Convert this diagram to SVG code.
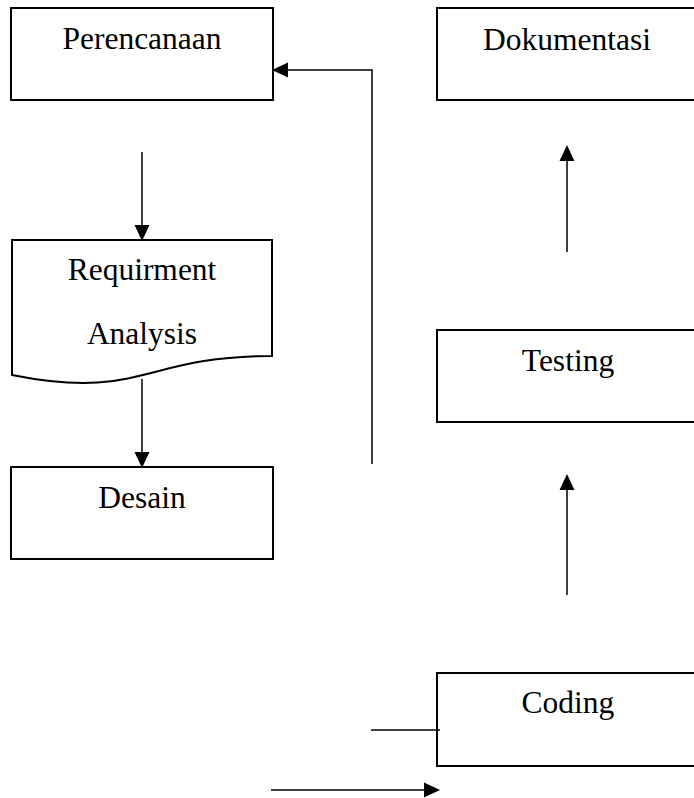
<svg xmlns="http://www.w3.org/2000/svg" width="694" height="798" viewBox="0 0 694 798">
  <style>
    .box { fill: #ffffff; stroke: #000000; stroke-width: 2; }
    .lbl { font-family: "Liberation Serif", "Times New Roman", serif; font-size: 31.5px; fill: #000000; text-anchor: middle; }
    .con { fill: none; stroke: #000000; stroke-width: 1.5; }
  </style>
  <defs>
    <marker id="arrow" markerUnits="userSpaceOnUse" markerWidth="16" markerHeight="16" viewBox="0 0 15 14" refX="0" refY="7" orient="auto">
      <path d="M0,0 L15,7 L0,14 Z" fill="#000000"/>
    </marker>
  </defs>
  <rect width="694" height="798" fill="#ffffff"/>

  <g id="perencanaan">
    <rect class="box" x="11" y="8" width="262" height="92"/>
    <text class="lbl" x="142" y="49">Perencanaan</text>
  </g>
  <g id="requirment-analysis">
    <path class="box" d="M12,240 L272,240 L272,356 C142,356 142,401 12,375 Z"/>
    <text class="lbl" x="142" y="280">Requirment</text>
    <text class="lbl" x="142" y="343.5">Analysis</text>
  </g>
  <g id="desain">
    <rect class="box" x="11" y="467" width="262" height="92"/>
    <text class="lbl" x="142" y="508">Desain</text>
  </g>
  <g id="dokumentasi">
    <rect class="box" x="437" y="8" width="262" height="92"/>
    <text class="lbl" x="567" y="50">Dokumentasi</text>
  </g>
  <g id="testing">
    <rect class="box" x="437" y="330" width="262" height="92"/>
    <text class="lbl" x="568" y="371">Testing</text>
  </g>
  <g id="coding">
    <rect class="box" x="437" y="673" width="262" height="93"/>
    <text class="lbl" x="568" y="713">Coding</text>
  </g>

  <g id="connectors">
    <path class="con" d="M142,152 L142,225" marker-end="url(#arrow)"/>
    <path class="con" d="M142,379 L142,452" marker-end="url(#arrow)"/>
    <path class="con" d="M372,464 L372,70 L288,70" marker-end="url(#arrow)"/>
    <path class="con" d="M567,252 L567,161" marker-end="url(#arrow)"/>
    <path class="con" d="M567,595 L567,490" marker-end="url(#arrow)"/>
    <path class="con" d="M371,730 L440,730"/>
    <path class="con" d="M271,790 L424,790" marker-end="url(#arrow)"/>
  </g>
</svg>
